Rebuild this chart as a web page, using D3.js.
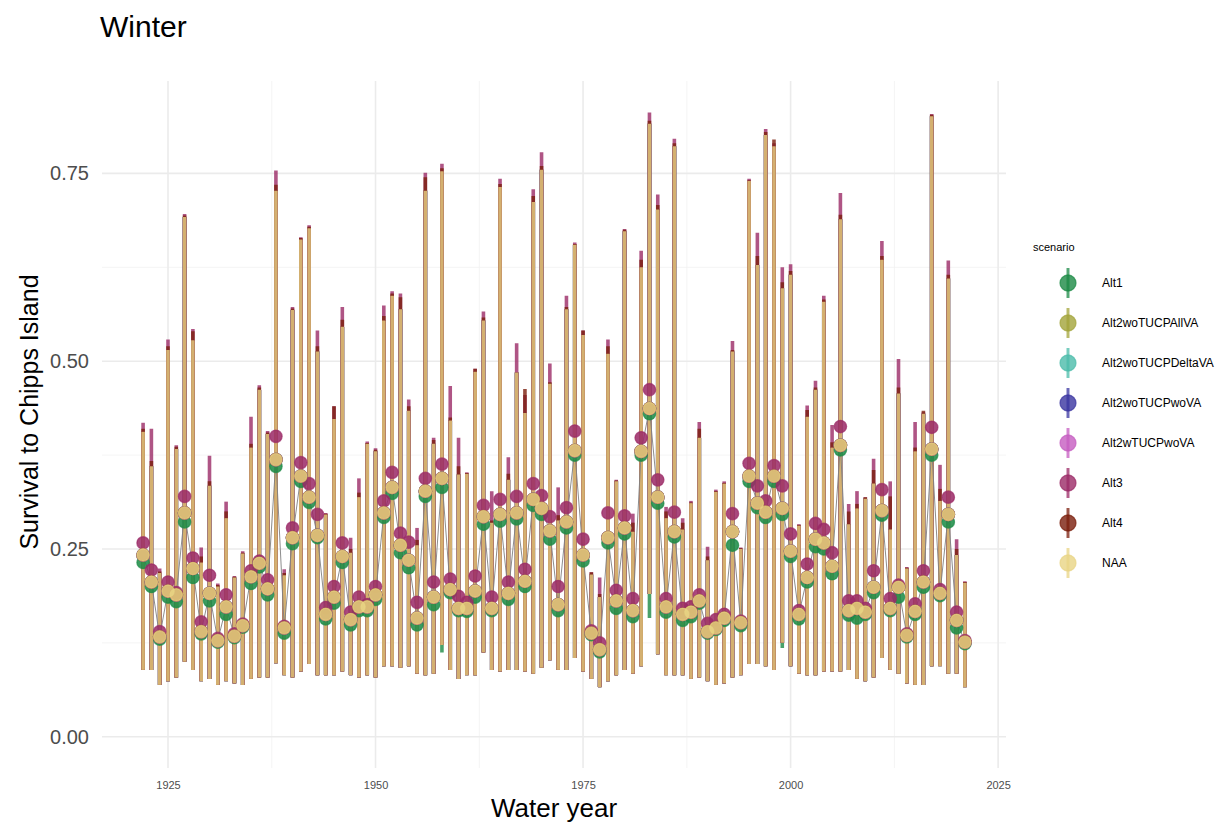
<!DOCTYPE html>
<html lang="en">
<head>
<meta charset="UTF-8"/>
<title>Winter</title>
<script src="https://d3js.org/d3.v7.min.js"></script>
<style>
  body { margin: 0; background: #fff; }
  text { font-family: "Liberation Sans", Arial, sans-serif; }
</style>
</head>
<body>
<script>
// Water years on the x axis
var years = d3.range(1922, 2022);

// NAA point estimate and range
var naaMid = [0.242,0.206,0.133,0.194,0.189,0.298,0.224,0.140,0.191,0.128,
              0.173,0.134,0.148,0.213,0.231,0.197,0.369,0.145,0.265,0.347,
              0.319,0.268,0.163,0.186,0.240,0.156,0.173,0.173,0.189,0.298,
              0.332,0.255,0.235,0.158,0.327,0.186,0.344,0.196,0.171,0.171,
              0.194,0.293,0.171,0.296,0.191,0.298,0.207,0.316,0.304,0.274,
              0.176,0.286,0.381,0.242,0.138,0.116,0.265,0.181,0.278,0.168,
              0.380,0.437,0.319,0.173,0.273,0.163,0.166,0.181,0.140,0.145,
              0.158,0.273,0.152,0.347,0.311,0.299,0.347,0.304,0.247,0.163,
              0.212,0.263,0.258,0.227,0.388,0.168,0.171,0.166,0.199,0.301,
              0.171,0.199,0.135,0.167,0.206,0.383,0.191,0.296,0.155,0.126];
var naaLo  = [0.089,0.089,0.069,0.074,0.079,0.100,0.089,0.074,0.077,0.069,
              0.074,0.071,0.069,0.077,0.079,0.079,0.098,0.082,0.079,0.087,
              0.097,0.082,0.082,0.082,0.087,0.082,0.079,0.082,0.079,0.094,
              0.094,0.092,0.094,0.084,0.082,0.084,0.122,0.089,0.077,0.082,
              0.082,0.112,0.089,0.087,0.089,0.089,0.087,0.084,0.092,0.102,
              0.089,0.089,0.105,0.087,0.077,0.066,0.074,0.082,0.089,0.084,
              0.094,0.190,0.110,0.082,0.082,0.082,0.077,0.079,0.074,0.069,
              0.071,0.079,0.082,0.097,0.097,0.094,0.089,0.125,0.094,0.084,
              0.082,0.082,0.087,0.087,0.087,0.089,0.077,0.074,0.079,0.105,
              0.089,0.084,0.071,0.069,0.069,0.094,0.094,0.084,0.084,0.066];
var naaHi  = [0.406,0.360,0.218,0.515,0.383,0.692,0.528,0.232,0.334,0.200,
              0.291,0.212,0.244,0.385,0.462,0.403,0.727,0.215,0.568,0.662,
              0.677,0.513,0.296,0.423,0.546,0.245,0.319,0.390,0.380,0.554,
              0.587,0.569,0.434,0.255,0.727,0.390,0.753,0.421,0.349,0.350,
              0.486,0.554,0.285,0.732,0.342,0.485,0.431,0.712,0.755,0.470,
              0.288,0.569,0.655,0.535,0.216,0.186,0.510,0.340,0.673,0.273,
              0.625,0.816,0.702,0.291,0.786,0.276,0.311,0.398,0.235,0.326,
              0.337,0.513,0.250,0.740,0.628,0.801,0.786,0.597,0.615,0.281,
              0.426,0.462,0.579,0.385,0.689,0.283,0.304,0.317,0.337,0.635,
              0.276,0.457,0.224,0.380,0.430,0.826,0.314,0.610,0.242,0.205];

// Alt3 sits a little higher than NAA
var alt3Mid = [0.258,0.222,0.140,0.206,0.192,0.320,0.238,0.153,0.215,0.131,
               0.189,0.137,0.150,0.221,0.234,0.209,0.400,0.147,0.278,0.365,
               0.337,0.296,0.172,0.200,0.258,0.166,0.186,0.176,0.200,0.314,
               0.352,0.271,0.259,0.179,0.344,0.206,0.363,0.210,0.187,0.179,
               0.214,0.308,0.186,0.316,0.206,0.320,0.223,0.337,0.321,0.293,
               0.200,0.305,0.407,0.263,0.141,0.125,0.298,0.195,0.294,0.184,
               0.398,0.462,0.342,0.184,0.299,0.171,0.173,0.189,0.151,0.156,
               0.163,0.297,0.154,0.364,0.334,0.314,0.361,0.334,0.270,0.168,
               0.230,0.284,0.276,0.245,0.413,0.181,0.181,0.171,0.221,0.329,
               0.184,0.202,0.137,0.177,0.221,0.412,0.196,0.319,0.166,0.128];
var alt3Hi  = [0.418,0.410,0.224,0.529,0.388,0.696,0.543,0.252,0.374,0.204,
               0.313,0.214,0.247,0.426,0.468,0.407,0.754,0.223,0.572,0.665,
               0.681,0.541,0.298,0.440,0.572,0.265,0.344,0.393,0.384,0.574,
               0.593,0.590,0.449,0.278,0.751,0.398,0.763,0.467,0.398,0.352,
               0.490,0.566,0.327,0.743,0.372,0.524,0.455,0.729,0.778,0.497,
               0.332,0.587,0.658,0.541,0.219,0.212,0.529,0.342,0.676,0.297,
               0.647,0.831,0.722,0.306,0.796,0.291,0.314,0.419,0.253,0.329,
               0.340,0.527,0.252,0.743,0.671,0.809,0.790,0.625,0.629,0.283,
               0.441,0.474,0.587,0.415,0.724,0.310,0.327,0.319,0.370,0.660,
               0.340,0.503,0.226,0.419,0.432,0.829,0.362,0.634,0.263,0.207];

// Alt1 sits a little lower than NAA
var alt1Mid = [0.232,0.200,0.130,0.186,0.180,0.286,0.212,0.137,0.181,0.126,
               0.163,0.132,0.146,0.204,0.226,0.189,0.360,0.138,0.257,0.340,
               0.312,0.265,0.157,0.178,0.232,0.149,0.168,0.168,0.183,0.292,
               0.324,0.245,0.225,0.149,0.320,0.176,0.332,0.192,0.168,0.167,
               0.186,0.283,0.168,0.287,0.183,0.290,0.200,0.308,0.296,0.263,
               0.168,0.278,0.375,0.234,0.136,0.113,0.258,0.171,0.270,0.160,
               0.375,0.430,0.311,0.166,0.266,0.155,0.160,0.178,0.138,0.143,
               0.155,0.255,0.148,0.340,0.305,0.292,0.340,0.296,0.240,0.157,
               0.206,0.253,0.250,0.217,0.382,0.162,0.158,0.163,0.192,0.295,
               0.168,0.186,0.133,0.163,0.199,0.375,0.188,0.286,0.145,0.124];
var alt1LoYears = [1958, 1983, 1999];
var alt1LoVals  = [0.112, 0.158, 0.118];

// Alt4 upper end (dark segment above the bars)
var alt4Hi  = [0.410,0.367,0.220,0.520,0.386,0.694,0.540,0.240,0.340,0.202,
               0.300,0.213,0.245,0.390,0.465,0.405,0.735,0.218,0.570,0.664,
               0.679,0.520,0.297,0.440,0.555,0.250,0.325,0.391,0.382,0.560,
               0.590,0.585,0.440,0.262,0.745,0.395,0.757,0.425,0.360,0.351,
               0.490,0.558,0.288,0.736,0.350,0.485,0.463,0.720,0.760,0.472,
               0.295,0.572,0.656,0.541,0.219,0.190,0.520,0.341,0.675,0.285,
               0.635,0.820,0.708,0.300,0.790,0.285,0.312,0.410,0.240,0.327,
               0.338,0.515,0.251,0.741,0.640,0.805,0.795,0.605,0.620,0.282,
               0.435,0.465,0.582,0.392,0.695,0.300,0.310,0.319,0.355,0.640,
               0.320,0.465,0.225,0.385,0.434,0.828,0.330,0.615,0.250,0.206];

var scenarios = ["Alt1","Alt2woTUCPAllVA","Alt2woTUCPDeltaVA","Alt2woTUCPwoVA",
                 "Alt2wTUCPwoVA","Alt3","Alt4","NAA"];
var colors = ["#1b8a45","#a3a43a","#4bbcaa","#3a35a0","#c55cc0","#9b2a66","#7b1e0c","#e8d484"];
var yTicks = [0, 0.25, 0.5, 0.75];
var xTicks = [1925, 1950, 1975, 2000, 2025];

// rows for every scenario and year
var alt1Lo = naaLo.map(function(v, i) {
    var k = alt1LoYears.indexOf(years[i]);
    return k < 0 ? v : alt1LoVals[k];
});
var midBy = {Alt1: alt1Mid, Alt3: alt3Mid};
var hiBy  = {Alt3: alt3Hi, Alt4: alt4Hi};
var loBy  = {Alt1: alt1Lo};
var rows = [];
scenarios.forEach(function(s, si) {
    years.forEach(function(y, i) {
        rows.push({
            scenario: s, color: colors[si], year: y,
            mid: (midBy[s] || naaMid)[i],
            lo: (loBy[s] || naaLo)[i],
            hi: (hiBy[s] || naaHi)[i]
        });
    });
});

var w = 1225, h = 829;
var panelL = 102, panelR = 1006, panelT = 81, panelB = 768;

var xScale = d3.scaleLinear()
    .domain([1917.05, 2025.95])
    .range([panelL, panelR]);
var yScale = d3.scaleLinear()
    .domain([-0.0416, 0.873])
    .range([panelB, panelT]);

var svg = d3.select("body").append("svg")
    .attr("width", w)
    .attr("height", h);

// grid
var grid = svg.append("g");
[1937.5, 1962.5, 1987.5, 2012.5].forEach(function(v) {
    grid.append("line")
        .attr("x1", xScale(v)).attr("x2", xScale(v))
        .attr("y1", panelT).attr("y2", panelB)
        .attr("stroke", "#f1f1f1").attr("stroke-width", 0.8);
});
[0.125, 0.375, 0.625].forEach(function(v) {
    grid.append("line")
        .attr("x1", panelL).attr("x2", panelR)
        .attr("y1", yScale(v)).attr("y2", yScale(v))
        .attr("stroke", "#f1f1f1").attr("stroke-width", 0.8);
});
xTicks.forEach(function(v) {
    grid.append("line")
        .attr("x1", xScale(v)).attr("x2", xScale(v))
        .attr("y1", panelT).attr("y2", panelB)
        .attr("stroke", "#ebebeb").attr("stroke-width", 1.6);
});
yTicks.forEach(function(v) {
    grid.append("line")
        .attr("x1", panelL).attr("x2", panelR)
        .attr("y1", yScale(v)).attr("y2", yScale(v))
        .attr("stroke", "#ebebeb").attr("stroke-width", 1.6);
});

// axes
var yAxis = d3.axisLeft(yScale).tickValues(yTicks)
    .tickFormat(d3.format(".2f")).tickSize(0).tickPadding(13);
var gy = svg.append("g")
    .attr("transform", "translate(" + panelL + ",0)")
    .call(yAxis);
gy.select(".domain").remove();
gy.selectAll("text")
    .attr("font-size", "20px")
    .attr("fill", "#4d4d4d")
    .style("font-family", "'Liberation Sans', Arial, sans-serif");

var xAxis = d3.axisBottom(xScale).tickValues(xTicks)
    .tickFormat(d3.format("d")).tickSize(0).tickPadding(13);
var gx = svg.append("g")
    .attr("transform", "translate(0," + panelB + ")")
    .call(xAxis);
gx.select(".domain").remove();
gx.selectAll("text")
    .attr("font-size", "11px")
    .attr("fill", "#4d4d4d")
    .style("font-family", "'Liberation Sans', Arial, sans-serif");

// ranges
svg.append("g").selectAll("line")
    .data(rows)
    .enter()
    .append("line")
    .attr("x1", function(d) { return xScale(d.year); })
    .attr("x2", function(d) { return xScale(d.year); })
    .attr("y1", function(d) { return yScale(d.lo); })
    .attr("y2", function(d) { return yScale(d.hi); })
    .attr("stroke", function(d) { return d.color; })
    .attr("stroke-opacity", 0.8)
    .attr("stroke-width", 3.6);

// grey line through NAA
var line = d3.line()
    .x(function(d, i) { return xScale(years[i]); })
    .y(function(d) { return yScale(d); });
svg.append("path")
    .datum(naaMid)
    .attr("d", line)
    .attr("fill", "none")
    .attr("stroke", "#808080")
    .attr("stroke-width", 0.9);

// points
svg.append("g").selectAll("circle")
    .data(rows)
    .enter()
    .append("circle")
    .attr("cx", function(d) { return xScale(d.year); })
    .attr("cy", function(d) { return yScale(d.mid); })
    .attr("r", 6.2)
    .attr("fill", function(d) { return d.color; })
    .attr("fill-opacity", 0.86)
    .attr("stroke", function(d) { return d.color; })
    .attr("stroke-opacity", 0.7)
    .attr("stroke-width", 1.3);

// titles
svg.append("text")
    .attr("x", 100).attr("y", 37)
    .attr("font-size", "30px")
    .text("Winter");

svg.append("text")
    .attr("x", (panelL + panelR) / 2).attr("y", 817)
    .attr("text-anchor", "middle")
    .attr("font-size", "26px")
    .text("Water year");

svg.append("text")
    .attr("transform", "rotate(-90)")
    .attr("x", -412).attr("y", 38)
    .attr("text-anchor", "middle")
    .attr("font-size", "25px")
    .text("Survival to Chipps Island");

// legend
var legend = svg.append("g");
legend.append("text")
    .attr("x", 1033).attr("y", 251)
    .attr("font-size", "11px")
    .text("scenario");
var keys = legend.selectAll("g.key")
    .data(scenarios)
    .enter()
    .append("g")
    .attr("class", "key")
    .attr("transform", function(d, i) { return "translate(1068," + (283 + i * 40) + ")"; });
keys.append("line")
    .attr("y1", -15).attr("y2", 15)
    .attr("stroke", function(d, i) { return colors[i]; })
    .attr("stroke-opacity", 0.75)
    .attr("stroke-width", 3);
keys.append("circle")
    .attr("r", 8)
    .attr("fill", function(d, i) { return colors[i]; })
    .attr("fill-opacity", 0.8)
    .attr("stroke", function(d, i) { return colors[i]; })
    .attr("stroke-opacity", 0.7)
    .attr("stroke-width", 1.3);
keys.append("text")
    .attr("x", 34).attr("y", 4)
    .attr("font-size", "12px")
    .text(function(d) { return d; });
</script>
</body>
</html>
